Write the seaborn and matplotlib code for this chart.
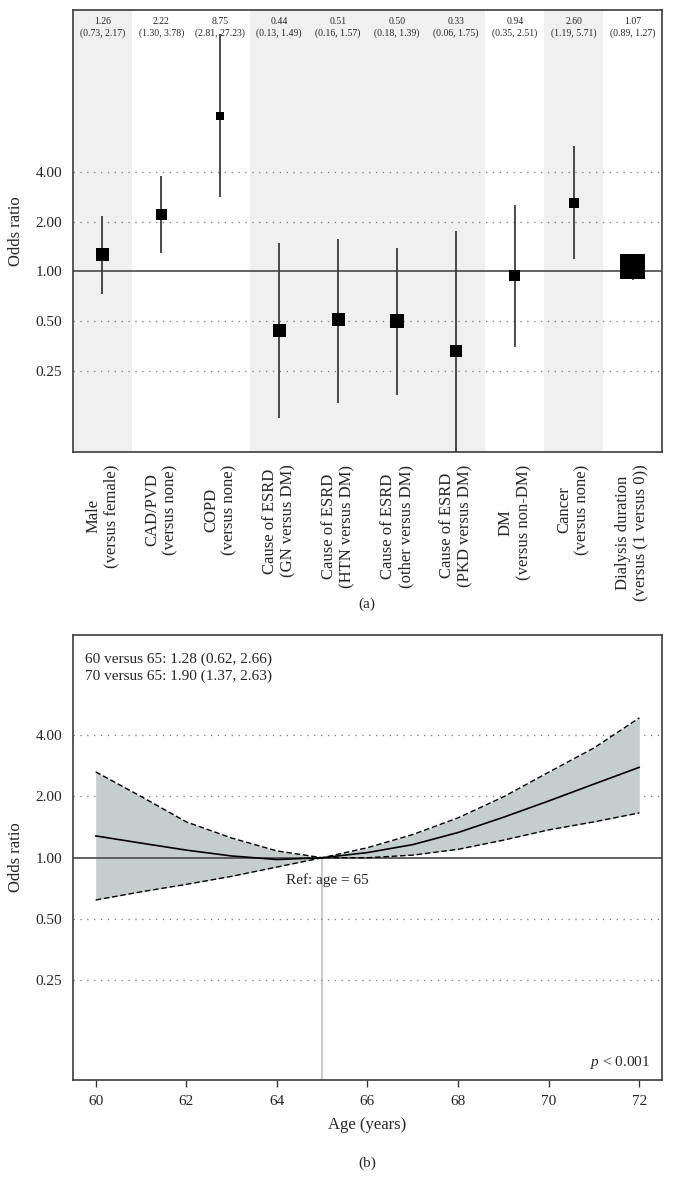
import seaborn as sns
import matplotlib.pyplot as plt
import numpy as np

# Panel (a): odds ratios con IC 95%
categorias = ["Male\n(versus female)", "CAD/PVD\n(versus none)", "COPD\n(versus none)",
              "Cause of ESRD\n(GN versus DM)", "Cause of ESRD\n(HTN versus DM)",
              "Cause of ESRD\n(other versus DM)", "Cause of ESRD\n(PKD versus DM)",
              "DM\n(versus non-DM)", "Cancer\n(versus none)",
              "Dialysis duration\n(versus (1 versus 0))"]
odds = [1.26, 2.22, 8.75, 0.44, 0.51, 0.50, 0.33, 0.94, 2.60, 1.07]
ic_bajo = [0.73, 1.30, 2.81, 0.13, 0.16, 0.18, 0.06, 0.35, 1.19, 0.89]
ic_alto = [2.17, 3.78, 27.23, 1.49, 1.57, 1.39, 1.75, 2.51, 5.71, 1.27]
tam_marcador = [13, 11, 8, 13, 13, 14, 12, 11, 10, 25]  # px
sombreado = [0, 3, 4, 5, 6, 8]

# Panel (b): OR segun edad
edad = [60, 61, 62, 63, 64, 65, 66, 67, 68, 69, 70, 71, 72]
or_edad = [1.28, 1.18, 1.09, 1.02, 0.98, 1.00, 1.06, 1.16, 1.33, 1.58, 1.90, 2.30, 2.78]
or_bajo = [0.62, 0.68, 0.74, 0.81, 0.90, 1.00, 1.00, 1.03, 1.10, 1.22, 1.37, 1.50, 1.66]
or_alto = [2.64, 2.00, 1.50, 1.25, 1.08, 1.00, 1.12, 1.30, 1.57, 1.99, 2.63, 3.46, 4.86]

ticks_y = [0.25, 0.5, 1, 2, 4]
ticks_lab = ["0.25", "0.50", "1.00", "2.00", "4.00"]

sns.set_style("white")
plt.rcParams["font.family"] = ["Liberation Serif", "DejaVu Serif"]
plt.rcParams["mathtext.fontset"] = "custom"
plt.rcParams["mathtext.it"] = "Liberation Serif:italic"
plt.rcParams["mathtext.rm"] = "Liberation Serif"

fig = plt.figure(figsize=(6.74, 11.93), dpi=100)
ax1 = fig.add_axes([0.1083, 0.6211, 0.8739, 0.3705])
ax2 = fig.add_axes([0.1083, 0.0947, 0.8739, 0.3730])

gris = "#3c3c3c"

# ---- (a) ----
x = np.arange(len(odds))
for i in sombreado:
    ax1.axvspan(i - 0.5, i + 0.5, color="#f0f0f0", lw=0, zorder=0)
ax1.vlines(x, ic_bajo, ic_alto, color=gris, lw=1.3, zorder=2)
sns.scatterplot(x=x, y=odds, marker="s", color="black",
                s=(np.array(tam_marcador) * 0.72) ** 2, linewidth=0,
                ax=ax1, zorder=3, legend=False)
ax1.axhline(1, color="#555555", lw=1.3, zorder=1)
for t in [0.25, 0.5, 2, 4]:
    ax1.axhline(t, color="#777777", lw=0.9, ls=(0, (1, 4.5)), zorder=1)
ax1.set_yscale("log")
ax1.set_ylim(0.081, 38)
ax1.set_xlim(-0.5, len(odds) - 0.5)
ax1.set_yticks(ticks_y)
ax1.set_yticklabels(ticks_lab)
ax1.minorticks_off()
ax1.set_xticks(x)
ax1.set_xticklabels(categorias, rotation=90, ha="center", va="top",
                    multialignment="center", fontsize=12)
ax1.tick_params(length=0, pad=8, labelsize=11)
ax1.tick_params(axis="x", pad=9, labelsize=12)
ax1.set_ylabel("Odds ratio", fontsize=12, labelpad=8)
for i in range(len(odds)):
    ax1.text(i, 0.985, f"{odds[i]:.2f}\n({ic_bajo[i]:.2f}, {ic_alto[i]:.2f})",
             transform=ax1.get_xaxis_transform(), ha="center", va="top",
             fontsize=7, linespacing=1.4)

# ---- (b) ----
ax2.fill_between(edad, or_bajo, or_alto, color="#c6cecd", lw=0, zorder=1)
sns.lineplot(x=edad, y=or_alto, color="black", lw=1.0, ls=(0, (4, 2)), ax=ax2, zorder=3)
sns.lineplot(x=edad, y=or_bajo, color="black", lw=1.0, ls=(0, (4, 2)), ax=ax2, zorder=3)
sns.lineplot(x=edad, y=or_edad, color="black", lw=1.2, ax=ax2, zorder=3)
ax2.axhline(1, color="#555555", lw=1.3, zorder=2)
ax2.vlines(65, 0.081, 1, color="#cccccc", lw=1.5, zorder=0)
for t in [0.25, 0.5, 2, 4]:
    ax2.axhline(t, color="#777777", lw=0.9, ls=(0, (1, 4.5)), zorder=0)
ax2.set_yscale("log")
ax2.set_ylim(0.081, 12.4)
ax2.set_xlim(59.5, 72.5)
ax2.set_yticks(ticks_y)
ax2.set_yticklabels(ticks_lab)
ax2.minorticks_off()
ax2.set_xticks(range(60, 73, 2))
ax2.tick_params(axis="y", length=0, pad=8, labelsize=11)
ax2.tick_params(axis="x", length=5, width=1, color=gris, direction="out",
                pad=6, labelsize=11, bottom=True)
ax2.set_xlabel("Age (years)", fontsize=12, labelpad=6)
ax2.set_ylabel("Odds ratio", fontsize=12, labelpad=8)
ax2.text(0.02, 0.96, "60 versus 65: 1.28 (0.62, 2.66)\n70 versus 65: 1.90 (1.37, 2.63)",
         transform=ax2.transAxes, ha="left", va="top", fontsize=11, linespacing=1.3)
ax2.text(65.12, 0.78, "Ref: age = 65", ha="center", va="center", fontsize=11)
ax2.text(0.98, 0.04, r"$\mathit{p}$ < 0.001", transform=ax2.transAxes,
         ha="right", va="center", fontsize=11)

for ax in (ax1, ax2):
    for sp in ax.spines.values():
        sp.set_color(gris)
        sp.set_linewidth(1.2)

fig.text(0.545, 1 - 604 / 1193, "(a)", ha="center", va="center", fontsize=11)
fig.text(0.545, 1 - 1163 / 1193, "(b)", ha="center", va="center", fontsize=11)

plt.savefig("out.png", dpi=100)
